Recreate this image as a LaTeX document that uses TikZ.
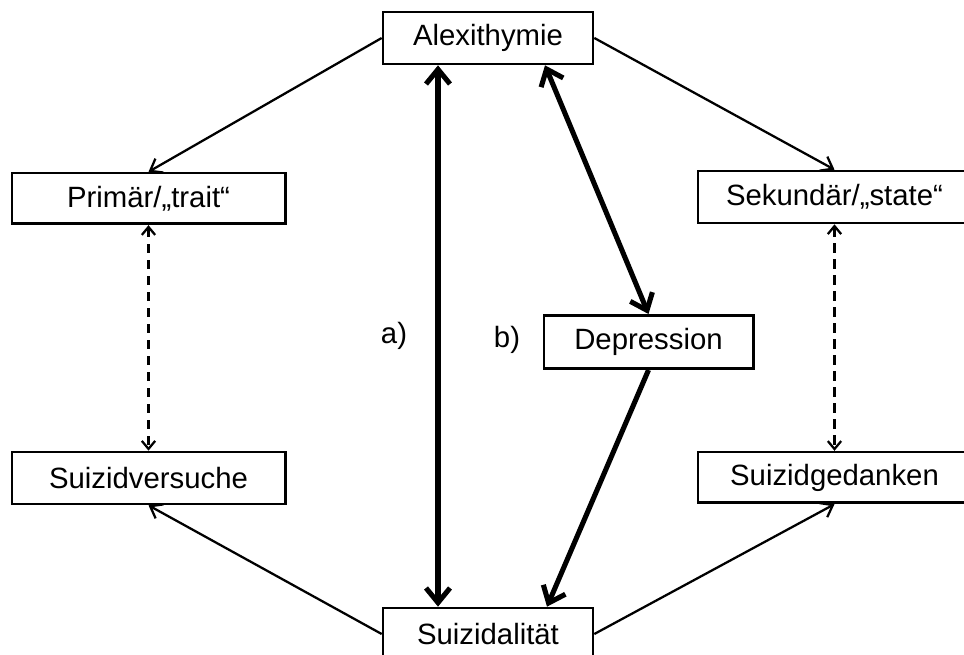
\documentclass[tikz,border=0pt]{standalone}
\usepackage{fontspec}
\setmainfont{Liberation Sans}
\usetikzlibrary{calc}
\usetikzlibrary{arrows.meta}

\begin{document}
\begin{tikzpicture} [x=.75pt, y=-.75pt,
 box/.style={draw, line width=2pt, fill=white, inner sep=0, font=\fontsize{22}{26}\selectfont},
 thinarrow/.style={line width=1.7pt, -{Straight Barb[length=8pt, width=12pt]}},
 thickarrow/.style={line width=3.8pt, -{Straight Barb[length=11pt, width=18pt]}},
 thickboth/.style={line width=3.8pt, {Straight Barb[length=11pt, width=18pt]}-{Straight Barb[length=11pt, width=18pt]}},
 dashlink/.style={line width=1.7pt, dash pattern=on 7pt off 5pt, {Straight Barb[length=6pt, width=10pt]}-{Straight Barb[length=6pt, width=10pt]}}]
\clip (0,0) rectangle (964,655);
\node[box, minimum width=157.5pt, minimum height=39pt] (alex) at (488,38) {Alexithymie};
\node[box, minimum width=157.5pt, minimum height=39pt] (suiz) at (488,634) {Suizidalität};
\node[box, minimum width=205pt, minimum height=38pt] (prim) at (148.5,198.5) {Primär/„trait“};
\node[box, minimum width=205pt, minimum height=39pt] (sek) at (834.5,197) {Sekundär/„state“};
\node[box, minimum width=157pt, minimum height=40pt] (dep) at (648.5,342) {Depression};
\node[box, minimum width=205pt, minimum height=39pt] (versuch) at (148.5,478) {Suizidversuche};
\node[box, minimum width=205pt, minimum height=38pt] (gedank) at (834.5,477.5) {Suizidgedanken};

\draw[thinarrow] (alex.west) -- (prim.north);
\draw[thinarrow] (alex.east) -- (sek.north);
\draw[thinarrow] (suiz.west) -- (versuch.south);
\draw[thinarrow] (suiz.east) -- (gedank.south);
\draw[dashlink] (prim.south) -- (versuch.north);
\draw[dashlink] (sek.south) -- (gedank.north);

\draw[thickboth] ($(alex.south)+(-50,0)$) -- ($(suiz.north)+(-50,0)$)
 node[pos=.5, xshift=-33pt, font=\fontsize{22}{26}\selectfont] (a) {a)};
\draw[thickboth] ($(alex.south)+(57,0)$) -- (dep.north);
\draw[thickarrow] (dep.south) -- ($(suiz.north)+(59,0)$);
\node[font=\fontsize{22}{26}\selectfont] (b) at (507,340) {b)};
\end{tikzpicture}
\end{document}
